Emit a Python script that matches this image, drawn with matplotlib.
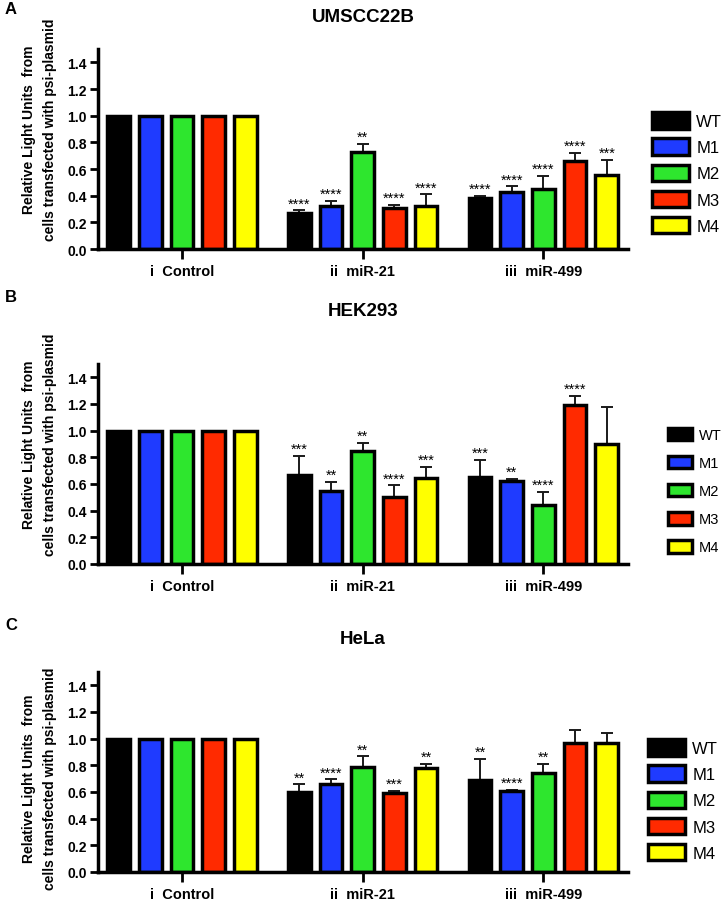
import matplotlib
matplotlib.use('Agg')
import matplotlib.pyplot as plt
from matplotlib.patches import Patch
import numpy as np

plt.rcParams['font.family'] = ['Liberation Sans', 'DejaVu Sans']

series = ['WT', 'M1', 'M2', 'M3', 'M4']
colors = ['#000000', '#1F3BFF', '#2EE62E', '#FF2A00', '#FFFF00']
groups = ['i  Control', 'ii  miR-21', 'iii  miR-499']
titles = ['UMSCC22B', 'HEK293', 'HeLa']
letters = ['A', 'B', 'C']
yticks = [0.0, 0.2, 0.4, 0.6, 0.8, 1.0, 1.2, 1.4]

# values: [group][series]
umscc_mean = [[1, 1, 1, 1, 1],
              [0.27, 0.32, 0.73, 0.31, 0.32],
              [0.38, 0.43, 0.45, 0.66, 0.555]]
umscc_err = [[0, 0, 0, 0, 0],
             [0.02, 0.04, 0.06, 0.02, 0.09],
             [0.02, 0.04, 0.10, 0.06, 0.115]]
umscc_sig = [['', '', '', '', ''],
             ['****', '****', '**', '****', '****'],
             ['****', '****', '****', '****', '***']]

hek_mean = [[1, 1, 1, 1, 1],
            [0.667, 0.547, 0.85, 0.504, 0.642],
            [0.652, 0.625, 0.443, 1.19, 0.897]]
hek_err = [[0, 0, 0, 0, 0],
           [0.143, 0.07, 0.057, 0.085, 0.088],
           [0.128, 0.015, 0.097, 0.07, 0.283]]
hek_sig = [['', '', '', '', ''],
           ['***', '**', '**', '****', '***'],
           ['***', '**', '****', '****', '']]

hela_mean = [[1, 1, 1, 1, 1],
             [0.60, 0.66, 0.785, 0.589, 0.782],
             [0.69, 0.604, 0.744, 0.967, 0.967]]
hela_err = [[0, 0, 0, 0, 0],
            [0.057, 0.034, 0.082, 0.017, 0.028],
            [0.16, 0.013, 0.066, 0.098, 0.076]]
hela_sig = [['', '', '', '', ''],
            ['**', '****', '**', '***', '**'],
            ['**', '****', '**', '', '']]

panels = [(umscc_mean, umscc_err, umscc_sig),
          (hek_mean, hek_err, hek_sig),
          (hela_mean, hela_err, hela_sig)]

W, H = 727, 904
fig = plt.figure(figsize=(W / 100, H / 100), dpi=100)

ax_left = 98 / W
ax_w = 530 / W
ax_h = 200 / H
zero_px = [250, 565, 873]
title_y = [18, 312, 640]
letter_y = [9, 297, 626]
ylabel_frac = [0.6, 0.6, 0.47]
# legend style per panel: (left px, center px, fontsize, handlelength, handleheight, spacing)
legend_cfg = [(652, 174, 12, 2.2, 1.15, 0.55),
              (668, 492, 10.5, 1.65, 0.95, 0.95),
              (648, 801, 12, 2.2, 1.15, 0.55)]

group_centers = np.array([0.0, 5.7, 11.4])
offsets = np.arange(5) - 2
bar_w = 0.72

for p, (means, errs, sigs) in enumerate(panels):
    bottom = 1 - zero_px[p] / H
    ax = fig.add_axes([ax_left, bottom, ax_w, ax_h])
    for s in range(5):
        xs = group_centers + offsets[s]
        ms = [means[g][s] for g in range(3)]
        es = [errs[g][s] for g in range(3)]
        ax.errorbar(xs, ms, yerr=[np.zeros(3), es], fmt='none',
                    ecolor='#1a1a1a', elinewidth=1.4, capsize=4.5,
                    capthick=1.4, zorder=1)
        ax.bar(xs, ms, width=bar_w, color=colors[s], edgecolor='black',
               linewidth=2.5, zorder=2)
        for g in range(3):
            if sigs[g][s]:
                ax.annotate(sigs[g][s], (xs[g], ms[g] + es[g]),
                            xytext=(0, 0), textcoords='offset points',
                            ha='center', va='bottom', fontsize=10.5)
    ax.set_xlim(-2.65, 14.07)
    ax.set_ylim(0, 1.5)
    ax.set_yticks(yticks)
    ax.set_yticklabels(['%.1f' % v for v in yticks], fontsize=10,
                       fontweight='bold')
    ax.set_xticks(group_centers)
    ax.set_xticklabels(groups, fontsize=10.5, fontweight='bold')
    for side in ['top', 'right']:
        ax.spines[side].set_visible(False)
    for side in ['left', 'bottom']:
        ax.spines[side].set_linewidth(2.5)
    ax.tick_params(axis='y', length=6, width=2, pad=2)
    ax.tick_params(axis='x', length=7, width=2, pad=4)

    fig.text((98 + 265) / W, 1 - title_y[p] / H, titles[p], fontsize=13.5,
             fontweight='bold', ha='center', va='center')
    ax.set_ylabel('Relative Light Units  from\ncells transfected with psi-plasmid',
                  fontsize=10, fontweight='bold', linespacing=1.6)
    ax.yaxis.set_label_coords(-0.078, ylabel_frac[p])

    lx, lcy, lfs, hl, hh, ls = legend_cfg[p]
    handles = [Patch(facecolor=c, edgecolor='black', linewidth=2.5)
               for c in colors]
    fig.legend(handles, series, loc='center left',
               bbox_to_anchor=(lx / W, 1 - lcy / H),
               frameon=False, fontsize=lfs, handlelength=hl,
               handleheight=hh, labelspacing=ls, handletextpad=0.45,
               borderpad=0, borderaxespad=0)

    fig.text(5 / W, 1 - letter_y[p] / H, letters[p], fontsize=12,
             fontweight='bold', ha='left', va='center')

fig.savefig('out.png', dpi=100)
